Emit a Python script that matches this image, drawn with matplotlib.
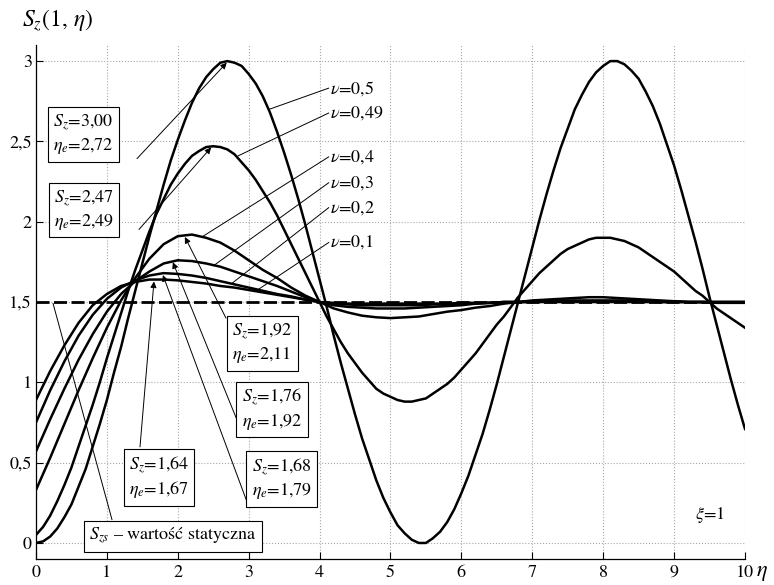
import matplotlib
matplotlib.use('Agg')
import matplotlib.pyplot as plt
import numpy as np

plt.rcParams['font.family'] = ['STIXGeneral', 'DejaVu Serif']
plt.rcParams['mathtext.fontset'] = 'stix'

# ---------------- data ----------------
eta_fine = np.round(np.arange(0, 10.001, 0.1), 1)     # for the two large curves
eta_coarse = np.round(np.arange(0, 10.001, 0.2), 1)   # for the four small curves

s_nu_050 = [0.00, 0.01, 0.04, 0.09, 0.16, 0.24, 0.35, 0.46, 0.60, 0.74,
            0.89, 1.06, 1.22, 1.40, 1.57, 1.74, 1.91, 2.07, 2.23, 2.38,
            2.51, 2.63, 2.74, 2.83, 2.90, 2.95, 2.99, 3.00, 2.99, 2.97,
            2.92, 2.86, 2.78, 2.68, 2.56, 2.43, 2.29, 2.14, 1.98, 1.81,
            1.64, 1.47, 1.29, 1.12, 0.96, 0.80, 0.65, 0.52, 0.39, 0.28,
            0.19, 0.11, 0.06, 0.02, 0.00, 0.00, 0.03, 0.07, 0.13, 0.21,
            0.31, 0.42, 0.55, 0.68, 0.83, 0.99, 1.16, 1.33, 1.50, 1.67,
            1.84, 2.01, 2.17, 2.32, 2.46, 2.58, 2.70, 2.79, 2.87, 2.93,
            2.97, 3.00, 3.00, 2.98, 2.94, 2.89, 2.81, 2.72, 2.61, 2.48,
            2.35, 2.20, 2.04, 1.88, 1.71, 1.53, 1.36, 1.19, 1.02, 0.86,
            0.71]

s_nu_049 = [0.05, 0.10, 0.17, 0.26, 0.36, 0.47, 0.60, 0.73, 0.86, 1.00,
            1.15, 1.29, 1.43, 1.57, 1.70, 1.82, 1.94, 2.05, 2.14, 2.23,
            2.30, 2.36, 2.41, 2.44, 2.465, 2.47, 2.465, 2.45, 2.42, 2.37,
            2.32, 2.26, 2.19, 2.12, 2.04, 1.95, 1.86, 1.77, 1.68, 1.59,
            1.50, 1.41, 1.33, 1.25, 1.18, 1.12, 1.06, 1.01, 0.96, 0.93,
            0.91, 0.89, 0.88, 0.88, 0.89, 0.90, 0.93, 0.96, 0.99, 1.03,
            1.08, 1.13, 1.18, 1.24, 1.30, 1.36, 1.41, 1.47, 1.53, 1.58,
            1.63, 1.68, 1.72, 1.76, 1.80, 1.83, 1.85, 1.87, 1.89, 1.90,
            1.90, 1.90, 1.89, 1.88, 1.86, 1.84, 1.81, 1.78, 1.75, 1.72,
            1.69, 1.65, 1.61, 1.57, 1.54, 1.50, 1.46, 1.43, 1.40, 1.37,
            1.34]

s_nu_040 = [0.33, 0.53, 0.74, 0.95, 1.15, 1.34,
            1.51, 1.65, 1.77, 1.86, 1.91,
            1.92, 1.90, 1.87, 1.82, 1.76,
            1.70, 1.65, 1.59, 1.54, 1.50,
            1.46, 1.435, 1.415, 1.405, 1.40,
            1.405, 1.41, 1.425, 1.44, 1.45,
            1.465, 1.475, 1.49, 1.50, 1.51,
            1.515, 1.52, 1.525, 1.53, 1.53,
            1.525, 1.52, 1.515, 1.51, 1.505,
            1.50, 1.50, 1.495, 1.495, 1.495]

s_nu_030 = [0.57, 0.77, 0.96, 1.14, 1.30, 1.44,
            1.55, 1.63, 1.69, 1.74, 1.76,
            1.755, 1.74, 1.72, 1.69, 1.66,
            1.63, 1.60, 1.565, 1.53, 1.50,
            1.48, 1.47, 1.465, 1.46, 1.46,
            1.46, 1.465, 1.47, 1.475, 1.48,
            1.49, 1.495, 1.50, 1.50, 1.505,
            1.51, 1.51, 1.51, 1.51, 1.51,
            1.51, 1.51, 1.51, 1.505, 1.505,
            1.50, 1.50, 1.50, 1.50, 1.50]

s_nu_020 = [0.75, 0.95, 1.13, 1.29, 1.42, 1.52,
            1.59, 1.635, 1.665, 1.68, 1.675,
            1.665, 1.65, 1.63, 1.61, 1.59,
            1.57, 1.55, 1.535, 1.515, 1.50,
            1.49, 1.485, 1.48, 1.48, 1.48,
            1.48, 1.48, 1.485, 1.485, 1.49,
            1.49, 1.495, 1.50, 1.50, 1.50,
            1.505, 1.505, 1.505, 1.505, 1.505,
            1.505, 1.505, 1.505, 1.50, 1.50,
            1.50, 1.50, 1.50, 1.50, 1.50]

s_nu_010 = [0.89, 1.07, 1.23, 1.37, 1.48, 1.55,
            1.60, 1.625, 1.64, 1.64, 1.635,
            1.625, 1.615, 1.60, 1.59, 1.575,
            1.56, 1.545, 1.53, 1.515, 1.50,
            1.495, 1.49, 1.49, 1.49, 1.49,
            1.49, 1.49, 1.49, 1.49, 1.495,
            1.495, 1.495, 1.50, 1.50, 1.50,
            1.50, 1.50, 1.50, 1.50, 1.50,
            1.50, 1.50, 1.50, 1.50, 1.50,
            1.50, 1.50, 1.50, 1.50, 1.50]

series = [(eta_fine, s_nu_050), (eta_fine, s_nu_049), (eta_coarse, s_nu_040),
          (eta_coarse, s_nu_030), (eta_coarse, s_nu_020), (eta_coarse, s_nu_010)]
nu_labels = ['0,5', '0,49', '0,4', '0,3', '0,2', '0,1']
static_value = 1.5

x_ticks = list(range(11))
x_tick_labels = [str(v) for v in x_ticks]
y_ticks = [0, 0.5, 1, 1.5, 2, 2.5, 3]
y_tick_labels = ['0', '0,5', '1', '1,5', '2', '2,5', '3']

# peak annotations: (S_z text, eta_e text)
peak_texts = [('3,00', '2,72'), ('2,47', '2,49'), ('1,92', '2,11'),
              ('1,76', '1,92'), ('1,68', '1,79'), ('1,64', '1,67')]

# ---------------- figure ----------------
fig = plt.figure(figsize=(7.74, 5.85), dpi=100)
ax = fig.add_axes([0.0465, 0.0444, 0.9160, 0.8786])

ax.axhline(static_value, color='black', lw=2.0, dashes=(4.7, 1.6), zorder=4)
for xs, vals in series:
    ax.plot(xs, vals, color='black', lw=1.8, zorder=3, solid_joinstyle='round')

ax.set_xlim(0, 10)
ax.set_ylim(-0.1, 3.1)
ax.set_xticks(x_ticks)
ax.set_xticklabels(x_tick_labels)
ax.set_yticks(y_ticks)
ax.set_yticklabels(y_tick_labels)
ax.tick_params(direction='in', length=5, width=0.8, labelsize=13)
ax.tick_params(axis='x', pad=4)
ax.tick_params(axis='y', pad=3)
ax.grid(True, linestyle=':', color='#a8a8a8', lw=0.8)
for side in ['top', 'right']:
    ax.spines[side].set_visible(False)
for side in ['left', 'bottom']:
    ax.spines[side].set_linewidth(0.9)

fig.text(22 / 774, 1 - 20 / 585, r'$S_z(1,\,\eta)$', fontsize=17, ha='left', va='center')
fig.text(756 / 774, 1 - 573 / 585, r'$\eta$', fontsize=16, ha='left', va='center')

# nu labels with leader lines
nu_label_y = [2.832, 2.677, 2.404, 2.243, 2.088, 1.871]
nu_curve_pts = [(3.29, 2.70), (2.85, 2.41), (2.34, 1.905), (2.50, 1.725), (2.76, 1.615), (3.09, 1.565)]
for lab, ly, pt in zip(nu_labels, nu_label_y, nu_curve_pts):
    ax.text(4.15, ly, r'$\nu$=' + lab, fontsize=13, ha='left', va='center')
    ax.annotate('', xy=pt, xytext=(4.13, ly),
                arrowprops=dict(arrowstyle='-', lw=0.7, color='black', shrinkA=0, shrinkB=0))

# peak boxes with arrows
box_centers = [(0.67, 2.544), (0.677, 2.072), (3.195, 1.243), (3.329, 0.831), (3.463, 0.399), (1.735, 0.408)]
arrow_starts = [(1.425, 2.393), (1.453, 1.952), (2.68, 1.40), (2.835, 0.766), (2.976, 0.256), (1.467, 0.598)]
arrow_ends = [(2.69, 2.99), (2.47, 2.462), (2.10, 1.905), (1.93, 1.748), (1.79, 1.668), (1.664, 1.628)]
bbox = dict(boxstyle='square,pad=0.3', fc='white', ec='black', lw=0.8)
for (sz, ee), c, a0, a1 in zip(peak_texts, box_centers, arrow_starts, arrow_ends):
    ax.annotate('', xy=a1, xytext=a0,
                arrowprops=dict(arrowstyle='-|>', lw=0.7, color='black', mutation_scale=9,
                                shrinkA=0, shrinkB=0), zorder=5)
    ax.text(c[0], c[1], r'$S_z$=' + sz + '\n' + r'$\eta_e$=' + ee, fontsize=13,
            ha='center', va='center', multialignment='left', bbox=bbox, zorder=6,
            linespacing=1.25)

# static value label
ax.annotate('', xy=(0.24, 1.492), xytext=(1.072, 0.145),
            arrowprops=dict(arrowstyle='-', lw=0.7, color='black', shrinkA=0, shrinkB=0))
ax.text(1.932, 0.042, r'$S_{zs}$ – wartość statyczna', fontsize=13, ha='center', va='center',
        bbox=bbox, zorder=6)

ax.text(9.29, 0.176, r'$\xi$=1', fontsize=13, ha='left', va='center')

fig.savefig('out.png', dpi=100)
